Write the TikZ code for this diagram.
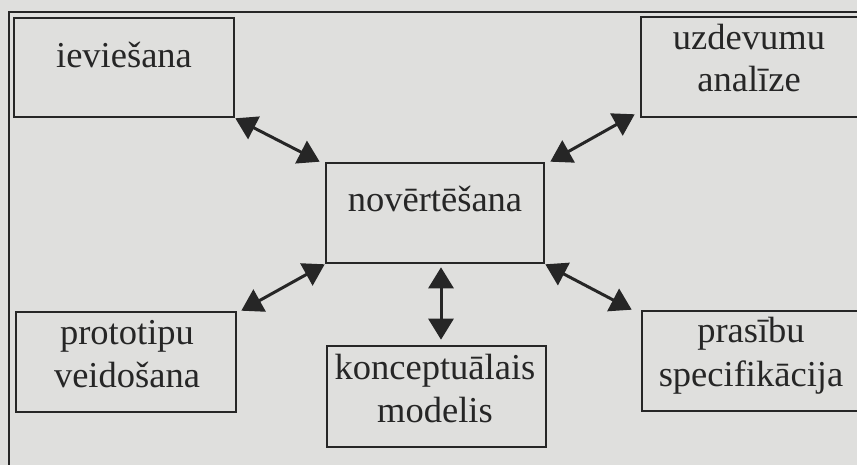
\documentclass[tikz,border=0pt]{standalone}
\usepackage{fontspec}
\setmainfont{Liberation Serif}
\usetikzlibrary{arrows.meta}
\definecolor{paper}{RGB}{223,223,221}
\definecolor{ink}{RGB}{38,38,38}
\begin{document}
\begin{tikzpicture}[x=1pt,y=1pt,
  box/.style={draw=ink,line width=2.6pt,rectangle,inner sep=0pt},
  word/.style={anchor=base,inner sep=0pt,text=ink,font=\fontsize{36.5}{43}\selectfont},
  biarrow/.style={draw=ink,line width=3pt,{Triangle[length=21pt,width=25pt]}-{Triangle[length=21pt,width=25pt]}}]
  % page and outer frame
  \useasboundingbox[fill=paper] (0,0) rectangle (857,465);
  \draw[ink,line width=2.6pt] (9,-20) -- (9,453) -- (900,453);

  % boxes
  \node[box,minimum width=220pt,minimum height=99pt]  (iev)  at (124,397.5) {};
  \node[box,minimum width=240pt,minimum height=100pt] (uzd)  at (761,398)   {};
  \node[box,minimum width=218pt,minimum height=100pt] (nov)  at (435,252)   {};
  \node[box,minimum width=220pt,minimum height=100pt] (prot) at (126,103)   {};
  \node[box,minimum width=219pt,minimum height=101pt] (konc) at (436.5,68.5) {};
  \node[box,minimum width=238pt,minimum height=100pt] (pras) at (761,104)   {};

  % labels
  \node[word] (ievT)   at (124,397) {ieviešana};
  \node[word] (uzdT1)  at (749,415) {uzdevumu};
  \node[word] (uzdT2)  at (749,373) {analīze};
  \node[word] (novT)   at (435,253) {novērtēšana};
  \node[word] (protT1) at (127,120) {prototipu};
  \node[word] (protT2) at (127,77)  {veidošana};
  \node[word] (koncT1) at (435,85)  {konceptuālais};
  \node[word] (koncT2) at (435,42)  {modelis};
  \node[word] (prasT1) at (751,122) {prasību};
  \node[word] (prasT2) at (751,78)  {specifikācija};

  % connectors
  \draw[biarrow] (iev.south east) -- ([xshift=-5pt]nov.north west);
  \draw[biarrow] ([xshift=5pt]nov.north east) -- ([shift={(-5pt,4pt)}]uzd.south west);
  \draw[biarrow] (nov.south west) -- ([xshift=4pt]prot.north east);
  \draw[biarrow] (nov.south east) -- ([xshift=-9pt]pras.north west);
  \draw[biarrow] ([shift={(6pt,-3pt)}]nov.south) -- ([shift={(4.5pt,5pt)}]konc.north);
\end{tikzpicture}
\end{document}
